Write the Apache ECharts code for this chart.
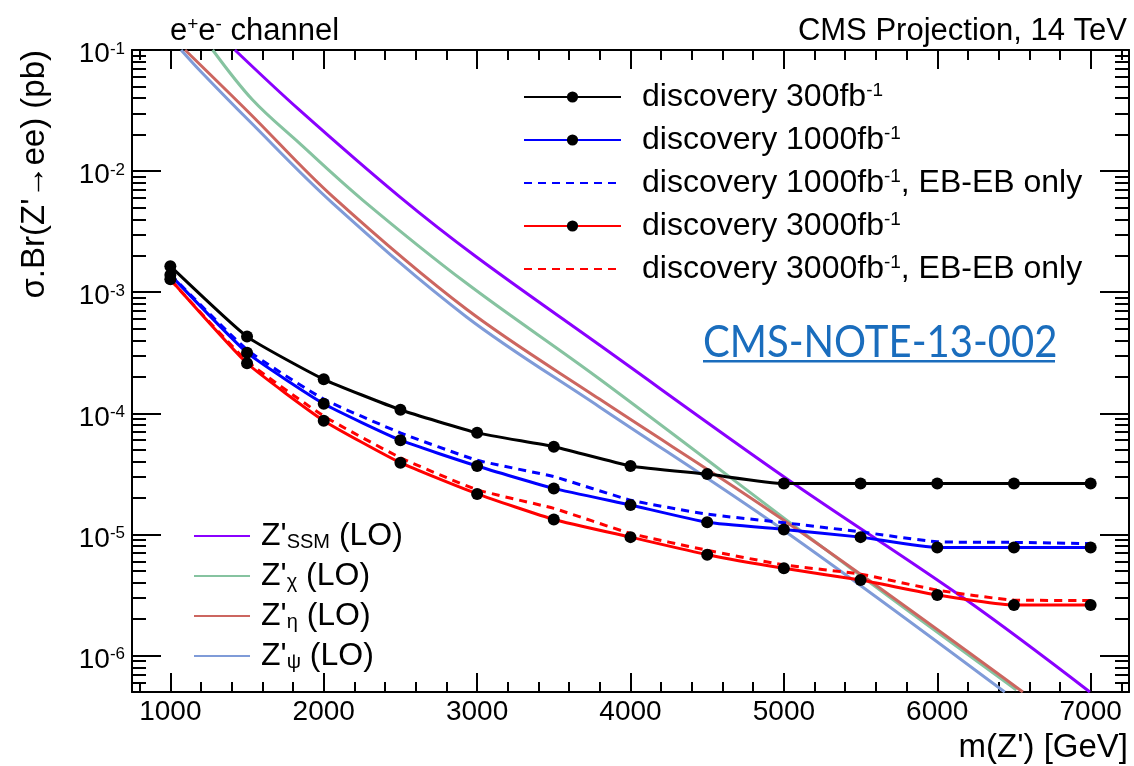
<!DOCTYPE html>
<html>
<head>
<meta charset="utf-8">
<title>Z' discovery reach, e+e- channel</title>
<script src="https://cdn.jsdelivr.net/npm/echarts@6/dist/echarts.min.js"></script>
<style>
html, body { margin: 0; padding: 0; background: #fff; }
#chart { width: 1134px; height: 766px; }
</style>
</head>
<body>
<div id="chart"></div>
<script>
// discovery reach, sigma.Br in pb
const massPoints = [1000, 1500, 2000, 2500, 3000, 3500, 4000, 4500, 5000, 5500, 6000, 6500, 7000];
const disc300 = [1.64e-3, 4.30e-4, 1.91e-4, 1.07e-4, 6.9e-5, 5.3e-5, 3.68e-5, 3.15e-5, 2.63e-5, 2.63e-5, 2.63e-5, 2.63e-5, 2.63e-5];
const disc1000 = [1.39e-3, 3.17e-4, 1.20e-4, 6.0e-5, 3.67e-5, 2.40e-5, 1.75e-5, 1.26e-5, 1.10e-5, 9.5e-6, 7.8e-6, 7.8e-6, 7.8e-6];
const disc1000EB = [1.40e-3, 3.35e-4, 1.31e-4, 6.9e-5, 4.1e-5, 3.0e-5, 1.92e-5, 1.47e-5, 1.25e-5, 1.05e-5, 8.7e-6, 8.6e-6, 8.4e-6];
const disc3000 = [1.28e-3, 2.59e-4, 8.7e-5, 3.91e-5, 2.16e-5, 1.33e-5, 9.5e-6, 6.8e-6, 5.25e-6, 4.2e-6, 3.16e-6, 2.61e-6, 2.61e-6];
const disc3000EB = [1.27e-3, 2.70e-4, 9.5e-5, 4.3e-5, 2.34e-5, 1.64e-5, 1.02e-5, 7.4e-6, 5.6e-6, 4.7e-6, 3.47e-6, 2.87e-6, 2.85e-6];

// LO theory curves, sampled along each line inside the frame
const ssmMass = [1421, 1841, 2494, 2994, 3798, 5016, 6190, 6995];
const ssmXsec = [1.0e-1, 3.20e-2, 6.15e-3, 1.96e-3, 3.66e-4, 2.90e-5, 2.87e-6, 5.0e-7];
const chiMass = [1276, 1537, 1841, 2254, 2929, 3798, 5451, 6516];
const chiXsec = [1.0e-1, 3.86e-2, 1.70e-2, 5.77e-3, 1.19e-3, 1.92e-4, 5.08e-6, 5.2e-7];
const etaMass = [1096, 1515, 2059, 2929, 3798, 4995, 6558];
const etaXsec = [1.0e-1, 3.02e-2, 6.15e-3, 7.26e-4, 1.31e-4, 1.32e-5, 5.0e-7];
const psiMass = [1070, 1189, 1515, 2059, 2929, 3798, 4995, 6440];
const psiXsec = [1.0e-1, 6.84e-2, 2.59e-2, 5.42e-3, 6.28e-4, 1.13e-4, 1.09e-5, 5.0e-7];

// ticks
const xMajorTicks = [1000, 2000, 3000, 4000, 5000, 6000, 7000];
const xMinorTicks = [800, 1200, 1400, 1600, 1800, 2200, 2400, 2600, 2800, 3200, 3400, 3600, 3800,
  4200, 4400, 4600, 4800, 5200, 5400, 5600, 5800, 6200, 6400, 6600, 6800, 7200];
const yDecades = [-6, -5, -4, -3, -2, -1];
const yMantissas = [2, 3, 4, 5, 6, 7, 8, 9];

const yMinValue = 5e-7;
const yMaxValue = 1e-1;

const font = 'Liberation Sans';
const lg = v => Math.log10(v);
const pairs = (xs, ys) => xs.map((x, i) => [x, lg(ys[i])]);

const yMinorTicks = [];
[-7, -6, -5, -4, -3, -2].forEach(d => {
  yMantissas.forEach(m => {
    const v = lg(m) + d;
    if (v >= lg(yMinValue) - 1e-9 && v <= lg(yMaxValue)) yMinorTicks.push(v);
  });
});

const chart = echarts.init(document.getElementById('chart'));

const black = { color: '#000', width: 2 };
const hidden = { show: false };

function xAxisDef(pos, ticks, len, withLine, withLabel) {
  return {
    type: 'value', position: pos, min: 750, max: 7250,
    splitLine: hidden,
    axisLine: { show: withLine, onZero: false, lineStyle: black },
    axisTick: { show: true, inside: true, customValues: ticks, length: len, lineStyle: black },
    axisLabel: withLabel ? {
      show: true, customValues: ticks, margin: 6, color: '#000',
      fontFamily: font, fontSize: 28, formatter: v => String(v)
    } : hidden
  };
}

function yAxisDef(pos, ticks, len, withLine, withLabel) {
  return {
    type: 'value', position: pos, min: lg(yMinValue), max: lg(yMaxValue),
    splitLine: hidden,
    axisLine: { show: withLine, onZero: false, lineStyle: black },
    axisTick: { show: true, inside: true, customValues: ticks, length: len, lineStyle: black },
    axisLabel: withLabel ? {
      show: true, customValues: ticks, margin: 7, color: '#000',
      padding: [9, 0, 0, 0],
      formatter: v => '{b|10}{s|' + Math.round(v) + '}',
      rich: {
        b: { fontFamily: font, fontSize: 28, lineHeight: 28, color: '#000' },
        s: { fontFamily: font, fontSize: 17, lineHeight: 12, verticalAlign: 'top', color: '#000' }
      }
    } : hidden
  };
}

function discSeries(name, values, color, dashed) {
  return {
    name: name, type: 'line', data: pairs(massPoints, values),
    smooth: 0.15, z: 5,
    symbol: dashed ? 'none' : 'circle', symbolSize: 12,
    itemStyle: { color: '#000' },
    lineStyle: { color: color, width: 3, type: dashed ? [8, 6] : 'solid' },
    emphasis: { disabled: true }
  };
}

function theorySeries(name, xs, ys, color) {
  return {
    name: name, type: 'line', data: pairs(xs, ys),
    smooth: 0.35, symbol: 'none', z: 3,
    itemStyle: { color: color },
    lineStyle: { color: color, width: 3 },
    emphasis: { disabled: true }
  };
}

const legendLabels = {
  'discovery 300fb-1': 'discovery 300fb{s|-1}',
  'discovery 1000fb-1': 'discovery 1000fb{s|-1}',
  'discovery 1000fb-1, EB-EB only': 'discovery 1000fb{s|-1}, EB-EB only',
  'discovery 3000fb-1': 'discovery 3000fb{s|-1}',
  'discovery 3000fb-1, EB-EB only': 'discovery 3000fb{s|-1}, EB-EB only',
  "Z'SSM (LO)": "Z'{u|SSM} (LO)",
  "Z'chi (LO)": "Z'{u|\u03c7} (LO)",
  "Z'eta (LO)": "Z'{u|\u03b7} (LO)",
  "Z'psi (LO)": "Z'{u|\u03c8} (LO)"
};

const legendText = (pad) => ({
  fontFamily: font, fontSize: 32, lineHeight: 32, color: '#000',
  padding: [0, 0, 0, pad],
  rich: {
    s: { fontFamily: font, fontSize: 19, lineHeight: 18, verticalAlign: 'top', color: '#000' },
    u: { fontFamily: font, fontSize: 20, lineHeight: 6, verticalAlign: 'bottom', color: '#000' }
  }
});

const supRich = {
  s: { fontFamily: font, fontSize: 19, lineHeight: 20, verticalAlign: 'top', fill: '#000' }
};

const option = {
  animation: false,
  backgroundColor: '#fff',
  textStyle: { fontFamily: font },
  grid: { left: 132, right: 5, top: 50, bottom: 74, outerBoundsMode: 'none' },
  xAxis: [
    xAxisDef('bottom', xMajorTicks, 19, true, true),
    xAxisDef('bottom', xMinorTicks, 10, false, false),
    xAxisDef('top', xMajorTicks, 19, true, false),
    xAxisDef('top', xMinorTicks, 10, false, false)
  ],
  yAxis: [
    yAxisDef('left', yDecades, 29, true, true),
    yAxisDef('left', yMinorTicks, 14, false, false),
    yAxisDef('right', yDecades, 29, true, false),
    yAxisDef('right', yMinorTicks, 14, false, false)
  ],
  legend: [
    {
      orient: 'vertical', left: 523, top: 81, padding: 0,
      itemWidth: 97, itemHeight: 14, itemGap: 11,
      selectedMode: false, formatter: n => legendLabels[n],
      itemStyle: { color: '#000' },
      textStyle: legendText(16),
      data: [
        { name: 'discovery 300fb-1' },
        { name: 'discovery 1000fb-1' },
        { name: 'discovery 1000fb-1, EB-EB only', itemStyle: { opacity: 0 } },
        { name: 'discovery 3000fb-1' },
        { name: 'discovery 3000fb-1, EB-EB only', itemStyle: { opacity: 0 } }
      ]
    },
    {
      orient: 'vertical', left: 193, top: 520, padding: 0,
      itemWidth: 56, itemHeight: 14, itemGap: 8,
      selectedMode: false, formatter: n => legendLabels[n],
      itemStyle: { opacity: 0 },
      textStyle: legendText(6),
      data: ["Z'SSM (LO)", "Z'chi (LO)", "Z'eta (LO)", "Z'psi (LO)"]
    }
  ],
  series: [
    theorySeries("Z'SSM (LO)", ssmMass, ssmXsec, '#8a00ff'),
    theorySeries("Z'chi (LO)", chiMass, chiXsec, '#86c3a0'),
    theorySeries("Z'eta (LO)", etaMass, etaXsec, '#cc6660'),
    theorySeries("Z'psi (LO)", psiMass, psiXsec, '#7f9bd8'),
    discSeries('discovery 300fb-1', disc300, '#000', false),
    discSeries('discovery 1000fb-1, EB-EB only', disc1000EB, '#0000ff', true),
    discSeries('discovery 1000fb-1', disc1000, '#0000ff', false),
    discSeries('discovery 3000fb-1, EB-EB only', disc3000EB, '#ff0000', true),
    discSeries('discovery 3000fb-1', disc3000, '#ff0000', false)
  ],
  graphic: [
    {
      type: 'text', x: 170, y: 31,
      style: { text: 'e{s|+}e{s|-} channel', fontFamily: font, fontSize: 31, lineHeight: 32,
        fill: '#000', align: 'left', verticalAlign: 'middle', rich: supRich }
    },
    {
      type: 'text', x: 1127, y: 31,
      style: { text: 'CMS Projection, 14 TeV', fontFamily: font, fontSize: 31,
        fill: '#000', align: 'right', verticalAlign: 'middle' }
    },
    {
      type: 'text', x: 1128, y: 748,
      style: { text: "m(Z') [GeV]", fontFamily: font, fontSize: 33,
        fill: '#000', align: 'right', verticalAlign: 'middle' }
    },
    {
      type: 'text', x: 35, y: 50, rotation: Math.PI / 2,
      style: { text: "\u03c3.Br(Z'\u2192ee) (pb)", fontFamily: font, fontSize: 33,
        fill: '#000', align: 'right', verticalAlign: 'middle' }
    },
    {
      type: 'text', x: 703, y: 343, scaleX: 0.91,
      style: { text: 'CMS-NOTE-13-002', fontFamily: 'Lato', fontSize: 44,
        fill: '#1a6dbd', align: 'left', verticalAlign: 'middle' }
    },
    {
      type: 'rect', shape: { x: 703, y: 360, width: 352, height: 2.5 },
      style: { fill: '#1a6dbd' }
    }
  ]
};

chart.setOption(option);
window.addEventListener('resize', () => chart.resize());
</script>
</body>
</html>
